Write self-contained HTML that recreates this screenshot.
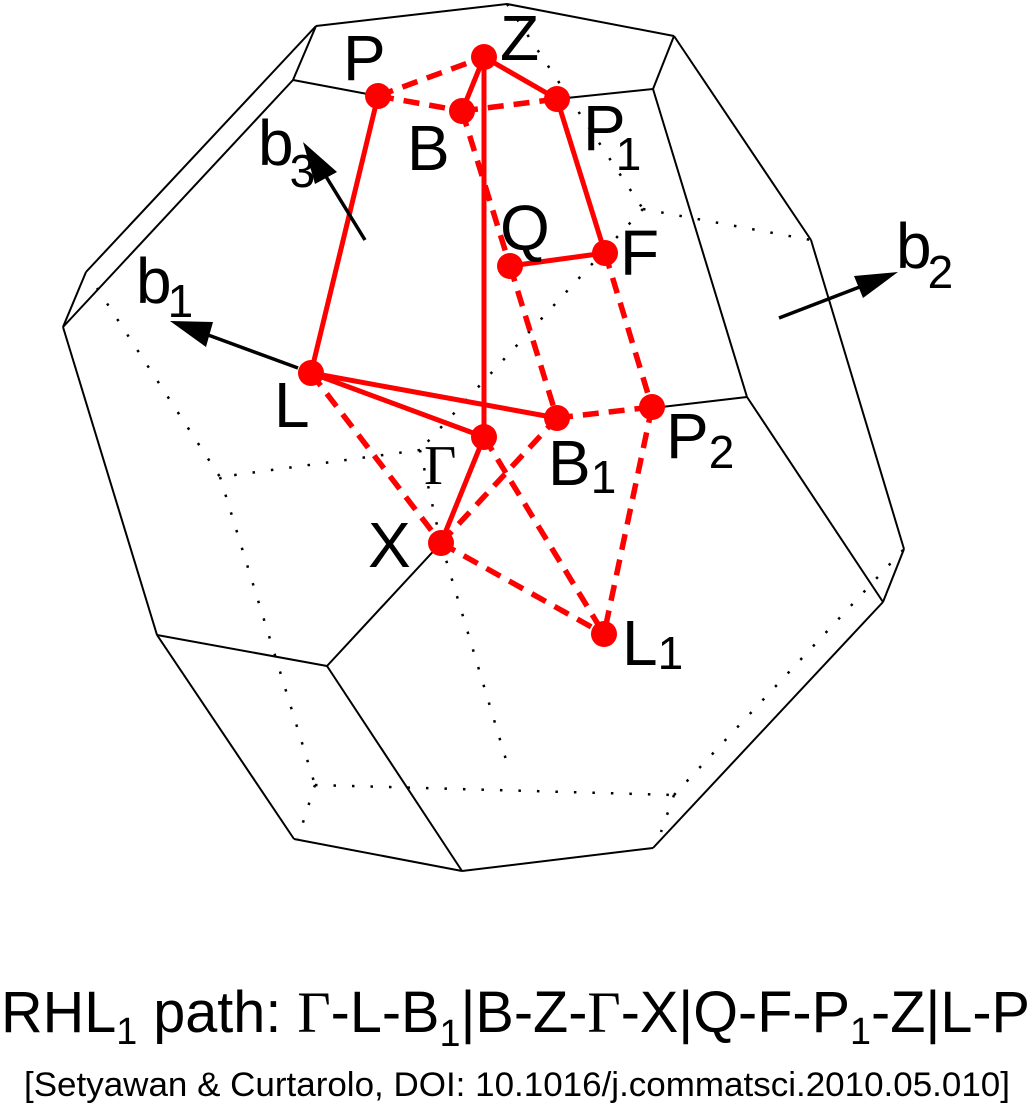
<!DOCTYPE html>
<html><head><meta charset="utf-8"><style>html,body{margin:0;padding:0;background:#fff}svg{display:block}</style></head>
<body>
<svg width="1032" height="1115" viewBox="0 0 1032 1115" xmlns="http://www.w3.org/2000/svg" font-family="Liberation Sans, sans-serif">
<g stroke="#000" stroke-width="2" fill="none" stroke-linejoin="miter">
<polyline points="316,26 507,4 674,36"/>
<line x1="316" y1="26" x2="293" y2="80"/>
<line x1="293" y1="80" x2="378" y2="96"/>
<line x1="316" y1="26" x2="86" y2="272"/>
<line x1="86" y1="272" x2="63" y2="327"/>
<line x1="293" y1="80" x2="63" y2="327"/>
<line x1="63" y1="327" x2="157" y2="635"/>
<line x1="157" y1="635" x2="327" y2="666"/>
<line x1="327" y1="666" x2="441" y2="543"/>
<line x1="157" y1="635" x2="294" y2="839"/>
<line x1="327" y1="666" x2="462" y2="871"/>
<line x1="294" y1="839" x2="462" y2="871"/>
<line x1="462" y1="871" x2="653" y2="848"/>
<line x1="653" y1="848" x2="883" y2="602"/>
<line x1="883" y1="602" x2="904" y2="549"/>
<line x1="747" y1="397" x2="883" y2="602"/>
<line x1="747" y1="397" x2="653" y2="408"/>
<line x1="747" y1="397" x2="653" y2="89"/>
<line x1="653" y1="89" x2="557" y2="99"/>
<line x1="653" y1="89" x2="674" y2="36"/>
<line x1="674" y1="36" x2="811" y2="240"/>
<line x1="811" y1="240" x2="904" y2="549"/>
</g>
<g stroke="#000" stroke-width="2.5" fill="none" stroke-dasharray="2.5,16">
<line x1="507" y1="4" x2="643" y2="209"/>
<line x1="643" y1="209" x2="811" y2="240"/>
<line x1="643" y1="209" x2="420" y2="450"/>
<line x1="420" y1="450" x2="220" y2="477"/>
<line x1="420" y1="450" x2="441" y2="543"/>
<line x1="97" y1="288" x2="220" y2="477"/>
<line x1="220" y1="477" x2="315" y2="785"/>
<line x1="315" y1="785" x2="298" y2="838"/>
<line x1="315" y1="785" x2="674" y2="795"/>
<line x1="441" y1="543" x2="507" y2="763"/>
<line x1="674" y1="795" x2="661" y2="832"/>
<line x1="674" y1="795" x2="904" y2="549"/>
</g>
<g stroke="#ff0000" stroke-width="5" fill="none">
<line x1="378" y1="96" x2="311" y2="373"/>
<line x1="484" y1="57" x2="462" y2="111"/>
<line x1="484" y1="57" x2="557" y2="99"/>
<line x1="557" y1="99" x2="605" y2="253"/>
<line x1="510" y1="266" x2="605" y2="253"/>
<line x1="484" y1="57" x2="484" y2="437"/>
<line x1="311" y1="373" x2="557" y2="418"/>
<line x1="311" y1="373" x2="484" y2="437"/>
<line x1="484" y1="437" x2="441" y2="543"/>
</g>
<g stroke="#ff0000" stroke-width="5.5" fill="none" stroke-dasharray="16,10">
<line x1="378" y1="96" x2="484" y2="57"/>
<line x1="378" y1="96" x2="462" y2="111"/>
<line x1="462" y1="111" x2="557" y2="99"/>
<line x1="462" y1="111" x2="510" y2="266"/>
<line x1="510" y1="266" x2="557" y2="418"/>
<line x1="605" y1="253" x2="652" y2="407"/>
<line x1="557" y1="418" x2="652" y2="407"/>
<line x1="311" y1="373" x2="441" y2="543"/>
<line x1="441" y1="543" x2="557" y2="418"/>
<line x1="441" y1="543" x2="604" y2="634"/>
<line x1="484" y1="437" x2="604" y2="634"/>
<line x1="652" y1="407" x2="604" y2="634"/>
</g>
<g fill="#ff0000">
<circle cx="378" cy="96" r="13"/><circle cx="484" cy="57" r="13"/><circle cx="462" cy="111" r="13"/>
<circle cx="557" cy="99" r="13"/><circle cx="510" cy="266" r="13"/><circle cx="605" cy="253" r="13"/>
<circle cx="311" cy="373" r="13"/><circle cx="484" cy="437" r="13"/><circle cx="557" cy="418" r="13"/>
<circle cx="652" cy="407" r="13"/><circle cx="441" cy="543" r="13"/><circle cx="604" cy="634" r="13"/>
</g>
<g stroke="#000" stroke-width="3.5">
<line x1="298" y1="368" x2="200" y2="332"/>
<line x1="365" y1="240" x2="322" y2="170"/>
<line x1="779" y1="318" x2="870" y2="283"/>
</g>
<g fill="#000">
<polygon points="170,321 213,322 206,347"/>
<polygon points="303,142 337,172 315,184"/>
<polygon points="898,272 854,276 863,298"/>
</g>
<g font-size="64" fill="#000">
<text x="343" y="80">P</text>
<text x="500" y="60">Z</text>
<text x="407" y="170">B</text>
<text x="583" y="150">P<tspan font-size="46" dx="-10" dy="20">1</tspan></text>
<text x="500" y="250">Q</text>
<text x="620" y="275">F</text>
<text x="258" y="165">b<tspan font-size="46" dx="-4" dy="22">3</tspan></text>
<text x="136" y="303">b<tspan font-size="46" dx="-4" dy="14">1</tspan></text>
<text x="896" y="268">b<tspan font-size="46" dx="-4" dy="20">2</tspan></text>
<text x="274" y="427">L</text>
<text x="424" y="484" font-family="Liberation Serif, serif" font-size="56">Γ</text>
<text x="548" y="485">B<tspan font-size="46" dy="8">1</tspan></text>
<text x="666" y="458">P<tspan font-size="46" dy="10">2</tspan></text>
<text x="368" y="567">X</text>
<text x="622" y="665">L<tspan font-size="46" dy="4">1</tspan></text>
</g>
<text x="1" y="1032" font-size="58" textLength="1029" lengthAdjust="spacingAndGlyphs">RHL<tspan font-size="38" dy="12">1</tspan><tspan dy="-12"> path: </tspan><tspan font-family="Liberation Serif, serif">Γ</tspan>-L-B<tspan font-size="38" dy="14">1</tspan><tspan dy="-14">|B-Z-</tspan><tspan font-family="Liberation Serif, serif">Γ</tspan>-X|Q-F-P<tspan font-size="38" dy="12">1</tspan><tspan dy="-12">-Z|L-P</tspan></text>
<text x="24" y="1096" font-size="34" textLength="986" lengthAdjust="spacingAndGlyphs">[Setyawan &amp; Curtarolo, DOI: 10.1016/j.commatsci.2010.05.010]</text>
</svg>
</body></html>
